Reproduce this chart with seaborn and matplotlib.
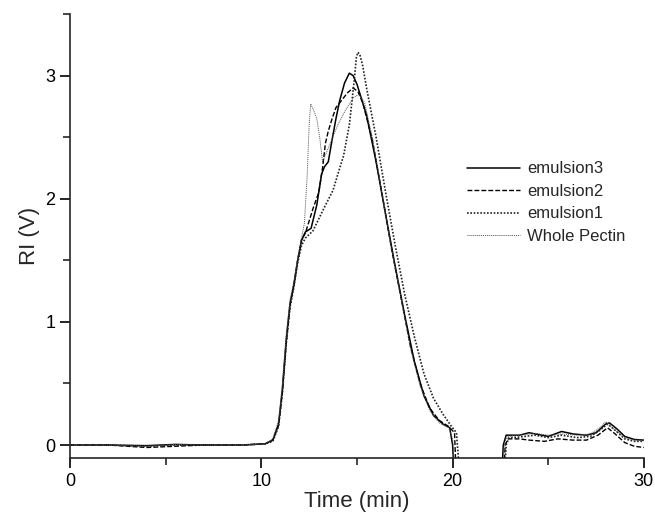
import numpy as np
import pandas as pd
import matplotlib
matplotlib.use('Agg')
import matplotlib.pyplot as plt
import seaborn as sns
from matplotlib.ticker import MultipleLocator

# Dados (tempo em min, RI em V)
t_em3 = [0, 2, 4, 5.5, 7, 9, 10.2, 10.6, 10.9, 11.1, 11.3, 11.5, 11.7, 11.9, 12.1, 12.3, 12.6, 12.9,
         13.15, 13.3, 13.5, 13.7, 13.9, 14.1, 14.35, 14.6, 14.8, 15.0, 15.5, 16.0, 16.5, 17.0, 17.5,
         18.0, 18.5, 19.0, 19.5, 19.85, 20.0, 20.1,
         22.55, 22.65, 22.8, 23.5, 24.0, 24.5, 25.0, 25.7, 26.3, 27.0, 27.5, 28.0, 28.2, 28.6, 29.0,
         29.5, 30.0]
v_em3 = [0, 0, -0.005, 0.005, 0, 0, 0.01, 0.04, 0.17, 0.45, 0.85, 1.15, 1.3, 1.5, 1.66, 1.73, 1.76, 1.95,
         2.2, 2.26, 2.3, 2.48, 2.65, 2.8, 2.94, 3.02, 3.0, 2.93, 2.68, 2.3, 1.87, 1.45, 1.05,
         0.68, 0.4, 0.24, 0.17, 0.14, 0.0, -0.3,
         -0.3, 0.0, 0.08, 0.08, 0.1, 0.085, 0.07, 0.11, 0.09, 0.08, 0.1, 0.17, 0.18, 0.13, 0.07,
         0.045, 0.04]

t_em2 = [0, 2, 4, 5.5, 7, 9, 10.2, 10.6, 10.9, 11.1, 11.3, 11.5, 11.7, 11.9, 12.1, 12.3, 12.7,
         13.0, 13.2, 13.35, 13.5, 13.7, 13.9, 14.2, 14.5, 14.8, 15.05, 15.3, 15.8, 16.3, 16.8, 17.3,
         17.8, 18.3, 18.8, 19.3, 19.8, 20.1, 20.2,
         22.65, 22.75, 22.9, 23.5, 24.0, 24.8, 25.5, 26.3, 27.0, 27.6, 28.1, 28.5, 29.0, 29.5, 30.0]
v_em2 = [0, 0, -0.02, -0.01, 0, 0, 0.01, 0.04, 0.16, 0.43, 0.83, 1.13, 1.3, 1.5, 1.67, 1.72, 1.92,
         2.05, 2.25, 2.45, 2.55, 2.65, 2.74, 2.8, 2.86, 2.9, 2.87, 2.78, 2.48, 2.05, 1.6, 1.2,
         0.8, 0.5, 0.3, 0.2, 0.15, 0.1, -0.3,
         -0.3, 0.0, 0.05, 0.05, 0.04, 0.03, 0.05, 0.04, 0.04, 0.08, 0.14, 0.09, 0.02, -0.01, -0.02]

t_em1 = [0, 2, 4, 5.5, 7, 9, 10.2, 10.6, 10.9, 11.1, 11.3, 11.5, 11.7, 11.9, 12.1, 12.3, 12.7,
         13.2, 13.75, 14.0, 14.3, 14.6, 14.85, 14.97, 15.05, 15.15, 15.3, 15.5, 16.0, 16.5, 17.0,
         17.5, 18.0, 18.5, 19.0, 19.5, 19.9, 20.2, 20.3, 20.4,
         22.7, 22.8, 22.95, 23.5, 24.3, 25.0, 25.7, 26.5, 27.2, 27.7, 28.1, 28.5, 29.0, 29.5, 30.0]
v_em1 = [0, 0, -0.01, 0, 0, 0, 0.01, 0.03, 0.15, 0.42, 0.82, 1.12, 1.28, 1.48, 1.62, 1.68, 1.74,
         1.9, 2.07, 2.2, 2.35, 2.6, 2.95, 3.15, 3.19, 3.17, 3.08, 2.9, 2.5, 2.05, 1.62,
         1.22, 0.88, 0.58, 0.38, 0.25, 0.16, 0.1, -0.1, -0.3,
         -0.3, 0.0, 0.06, 0.065, 0.08, 0.06, 0.08, 0.06, 0.07, 0.12, 0.17, 0.12, 0.05, 0.03, 0.03]

t_wp = [0, 2, 4, 5.5, 7, 9, 10.2, 10.6, 10.9, 11.1, 11.3, 11.5, 11.7, 11.9, 12.1, 12.25, 12.4,
        12.5, 12.58, 12.7, 12.9, 13.05, 13.2, 13.6, 14.0, 14.4, 14.8, 15.1, 15.4, 15.8, 16.3, 16.8,
        17.3, 17.8, 18.3, 18.8, 19.3, 19.8, 20.0, 20.15,
        22.6, 22.7, 22.85, 23.5, 24.3, 25.0, 25.7, 26.5, 27.2, 27.7, 28.0, 28.5, 29.0, 29.5, 30.0]
v_wp = [0, 0, -0.01, 0.005, 0, 0, 0.01, 0.05, 0.2, 0.5, 0.9, 1.18, 1.33, 1.52, 1.68, 1.8, 2.2,
        2.6, 2.77, 2.73, 2.65, 2.5, 2.3, 2.45, 2.6, 2.72, 2.82, 2.85, 2.78, 2.5, 2.05, 1.6,
        1.2, 0.78, 0.48, 0.28, 0.18, 0.14, 0.05, -0.3,
        -0.3, 0.0, 0.07, 0.08, 0.095, 0.08, 0.09, 0.08, 0.09, 0.14, 0.19, 0.12, 0.06, 0.04, 0.04]

series = [
    ('emulsion3', t_em3, v_em3, dict(color='black', linestyle='-', linewidth=1.1)),
    ('emulsion2', t_em2, v_em2, dict(color='black', linestyle=(0, (3.5, 1.5)), linewidth=1.0)),
    ('emulsion1', t_em1, v_em1, dict(color='#222222', linestyle=(0, (1, 1)), linewidth=1.2)),
    ('Whole Pectin', t_wp, v_wp, dict(color='#555555', linestyle=(0, (1, 1)), linewidth=0.7)),
]

sns.set_style('ticks')
plt.rcParams['font.family'] = ['Liberation Sans', 'DejaVu Sans']

fig = plt.figure(figsize=(6.55, 5.21), dpi=100)
ax = fig.add_axes([0.107, 0.121, 0.876, 0.852])

for nome, t, v, estilo in series:
    df = pd.DataFrame({'t': t, 'v': v})
    sns.lineplot(data=df, x='t', y='v', ax=ax, sort=False, estimator=None,
                 label=nome, **estilo)

ax.set_xlim(0, 30)
ax.set_ylim(-0.105, 3.5)
ax.xaxis.set_major_locator(MultipleLocator(10))
ax.xaxis.set_minor_locator(MultipleLocator(5))
ax.yaxis.set_major_locator(MultipleLocator(1))
ax.yaxis.set_minor_locator(MultipleLocator(0.5))
ax.tick_params(which='major', direction='out', length=7, width=1.2, labelsize=13, colors='black')
ax.tick_params(which='minor', direction='out', length=5, width=1.2)
for s in ['top', 'right']:
    ax.spines[s].set_visible(False)
for s in ['left', 'bottom']:
    ax.spines[s].set_linewidth(1.2)

ax.set_xlabel('Time (min)', fontsize=16, labelpad=1)
ax.set_ylabel('RI (V)', fontsize=16, labelpad=4)

ax.legend(loc='upper left', bbox_to_anchor=(0.68, 0.683), frameon=False, fontsize=12,
          handlelength=3.2, handletextpad=0.4, labelspacing=0.45, borderaxespad=0)

plt.savefig('out.png', dpi=100)
plt.close()
